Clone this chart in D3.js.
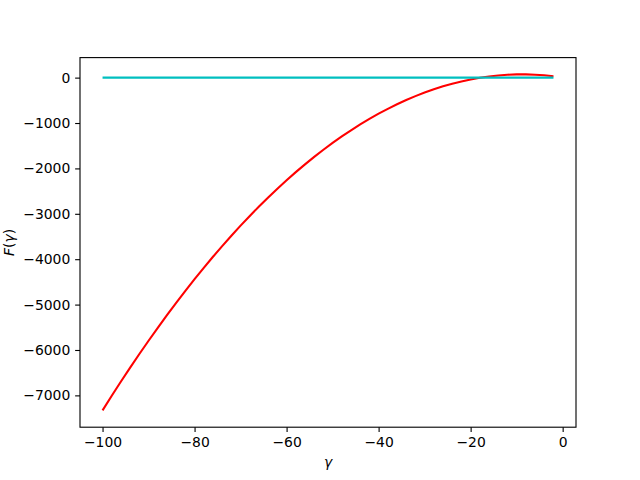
<!DOCTYPE html>
<html><head><meta charset="utf-8">
<script src="https://cdn.jsdelivr.net/npm/d3@7"></script>
<style>body{margin:0;background:#fff}svg{display:block}</style>
</head><body>
<script>
const gammaVals = [-100,-98,-96,-94,-92,-90,-88,-86,-84,-82,-80,-78,-76,-74,-72,-70,-68,-66,-64,-62,-60,-58,-56,-54,-52,-50,-48,-46,-44,-42,-40,-38,-36,-34,-32,-30,-28,-26,-24,-22,-20,-18,-16,-14,-12,-10,-8,-6,-4,-2];
const fVals = [-7331,-7009,-6695,-6389,-6089,-5796,-5511,-5232,-4961,-4697,-4440,-4190,-3947,-3711,-3483,-3261,-3047,-2840,-2640,-2447,-2261,-2082,-1911,-1746,-1589,-1439,-1296,-1160,-1031,-909,-794,-687,-586,-493,-407,-328,-256,-191,-134,-83,-40,-3,26,48,63,71,71,65,52,31];
const zeroVals = gammaVals.map(() => 0);
const xTicks = [-100,-80,-60,-40,-20,0];
const yTicks = [0,-1000,-2000,-3000,-4000,-5000,-6000,-7000];

const W = 640, H = 480;
const L = 80, T = 57.6, R = 576, B = 427.2;
const svg = d3.select("body").append("svg").attr("width", W).attr("height", H);

const xmin = d3.min(gammaVals), xmax = d3.max(gammaVals);
const ymin = d3.min(fVals.concat(zeroVals)), ymax = d3.max(fVals.concat(zeroVals));
const xm = (xmax - xmin) * 0.05, ym = (ymax - ymin) * 0.05;
const x = d3.scaleLinear().domain([xmin - xm, xmax + xm]).range([L, R]);
const y = d3.scaleLinear().domain([ymin - ym, ymax + ym]).range([B, T]);

const fmt = d => (d < 0 ? "\u2212" + Math.abs(d) : String(d));
const font = "DejaVu Sans, sans-serif";

const line = d3.line().x(d => x(d[0])).y(d => y(d[1]));
svg.append("path").datum(gammaVals.map((g, i) => [g, fVals[i]]))
  .attr("d", line).attr("fill", "none").attr("stroke", "#ff0000").attr("stroke-width", 2.08);
svg.append("path").datum(gammaVals.map((g, i) => [g, zeroVals[i]]))
  .attr("d", line).attr("fill", "none").attr("stroke", "#00bfbf").attr("stroke-width", 2.08);

const xAxis = svg.append("g").attr("transform", `translate(0,${B})`)
  .call(d3.axisBottom(x).tickValues(xTicks).tickFormat(fmt).tickSizeOuter(0).tickSize(4.86).tickPadding(4.86));
const yAxis = svg.append("g").attr("transform", `translate(${L},0)`)
  .call(d3.axisLeft(y).tickValues(yTicks).tickFormat(fmt).tickSizeOuter(0).tickSize(4.86).tickPadding(4.86));
[xAxis, yAxis].forEach(a => {
  a.select(".domain").remove();
  a.selectAll("line").attr("stroke", "#000").attr("stroke-width", 1.11);
  a.selectAll("text").attr("font-family", font).attr("font-size", 13.9).attr("fill", "#000");
});

svg.append("rect").attr("x", L).attr("y", T).attr("width", R - L).attr("height", B - T)
  .attr("fill", "none").attr("stroke", "#000").attr("stroke-width", 1.11);

svg.append("text").attr("x", (L + R) / 2).attr("y", 467).attr("text-anchor", "middle")
  .attr("font-family", font).attr("font-size", 13.9).attr("font-style", "italic").text("γ");
svg.append("text").attr("transform", `translate(14,${(T + B) / 2}) rotate(-90)`).attr("text-anchor", "middle")
  .attr("font-family", font).attr("font-size", 13.9)
  .html('<tspan font-style="italic">F</tspan>(<tspan font-style="italic">γ</tspan>)');
</script>
</body></html>
